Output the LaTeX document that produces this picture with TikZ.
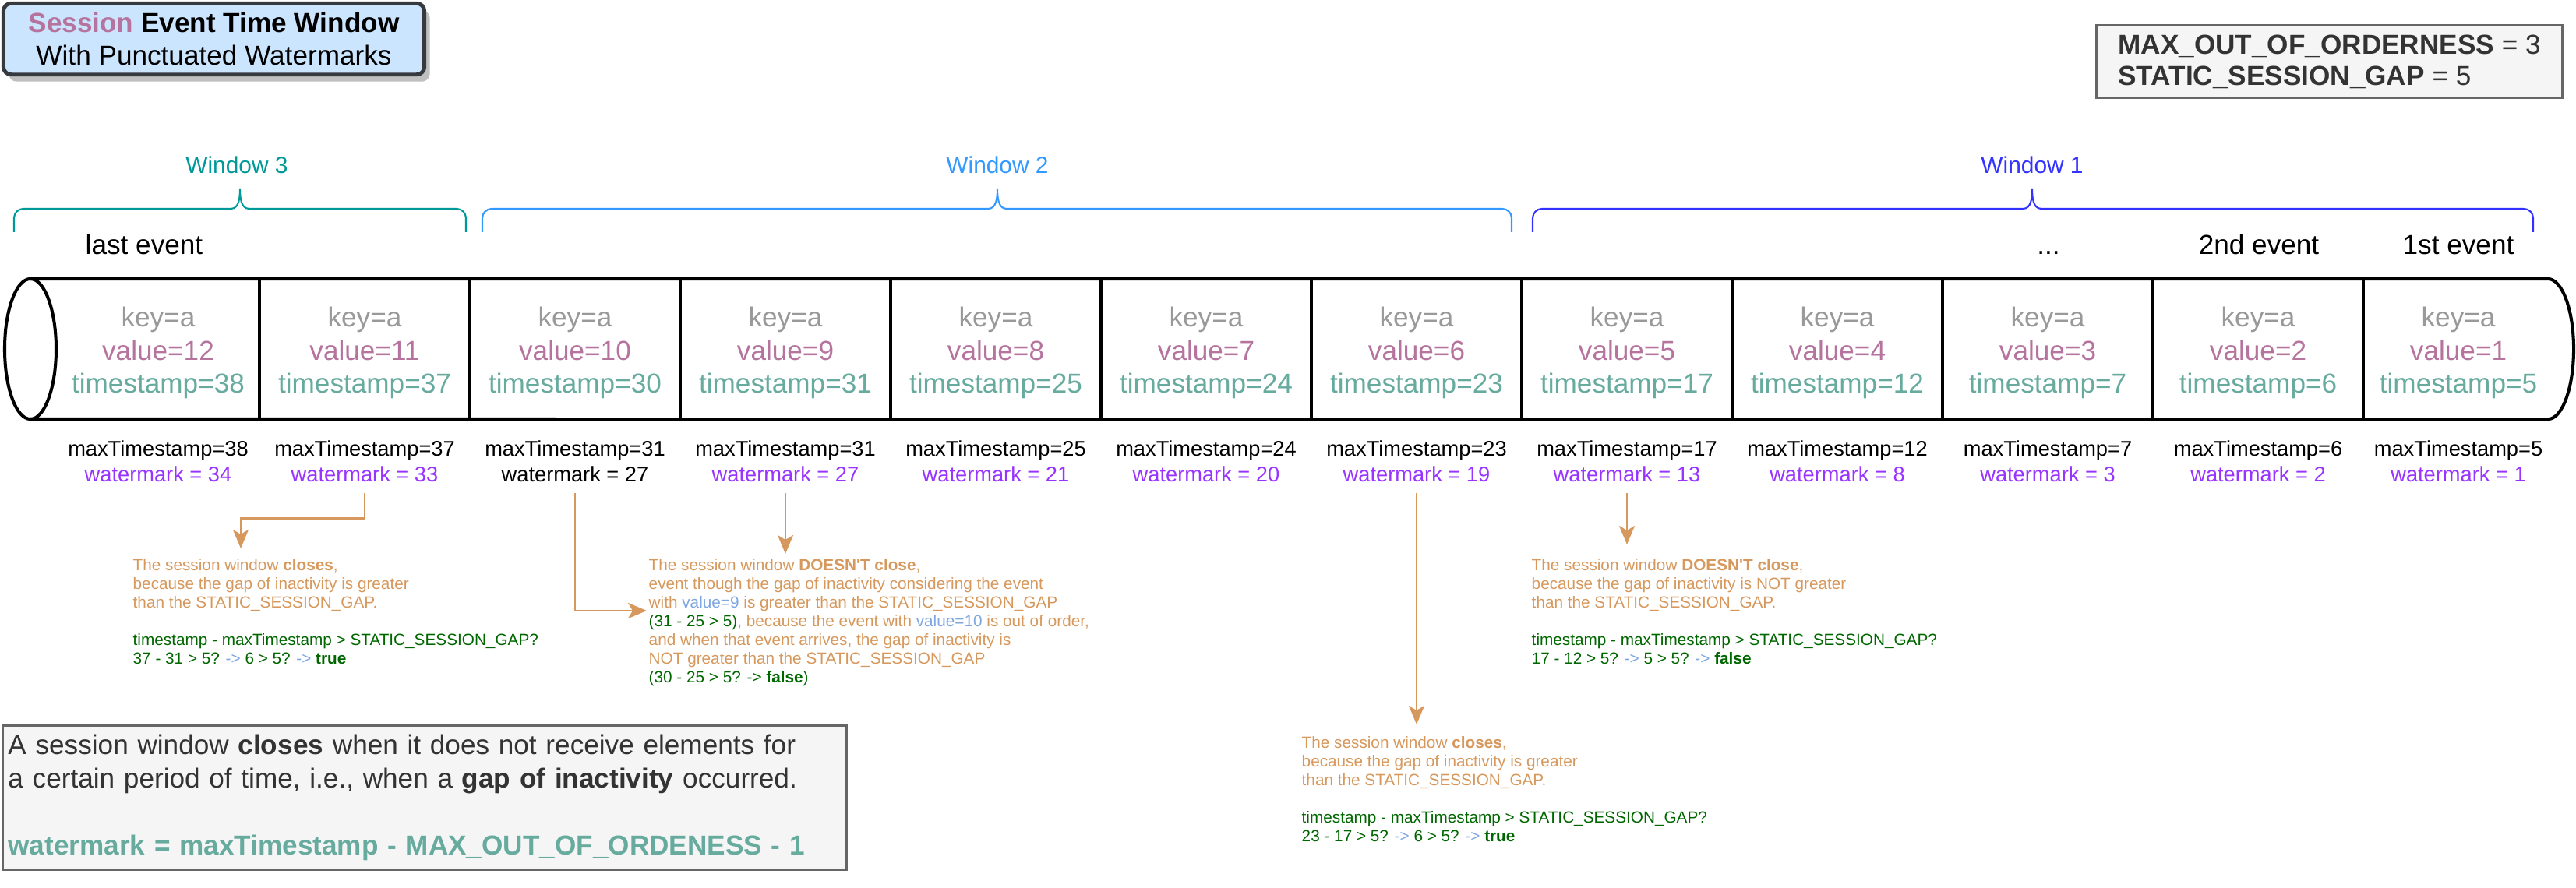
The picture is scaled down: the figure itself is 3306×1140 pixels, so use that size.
\documentclass[tikz,border=0pt]{standalone}
\usepackage{fontspec}
\setmainfont{Liberation Sans}
\newfontfamily\rawfont{Liberation Sans}
\usepackage{xcolor}
\usepackage{tikz}
\usetikzlibrary{arrows.meta,shadows}
\definecolor{keygray}{HTML}{999999}
\definecolor{valpink}{HTML}{B5739D}
\definecolor{tsgreen}{HTML}{67AB9F}
\definecolor{wmpurple}{HTML}{9933FF}
\definecolor{notec}{HTML}{D6985C}
\definecolor{codegreen}{HTML}{006600}
\definecolor{linkblue}{HTML}{7EA6E0}
\definecolor{winthree}{HTML}{009999}
\definecolor{wintwo}{HTML}{3399FF}
\definecolor{winone}{HTML}{3333FF}
\definecolor{titlefill}{HTML}{CCE5FF}
\definecolor{titledraw}{HTML}{36393D}
\definecolor{boxfill}{HTML}{F5F5F5}
\definecolor{boxdraw}{HTML}{666666}
\definecolor{boxtext}{HTML}{333333}
\tikzstyle{Cell}=[align=center, inner sep=0, font=\fontsize{10}{12}\selectfont]
\tikzstyle{Mark}=[align=center, inner sep=0.14cm, font=\fontsize{7.75}{9.4}\selectfont]
\tikzstyle{Event}=[anchor=base, inner sep=0, font=\fontsize{10}{12}\selectfont]
\tikzstyle{Win}=[inner sep=0, font=\fontsize{8.5}{10}\selectfont]
\tikzstyle{Brace}=[line width=0.6pt]
\tikzstyle{Pipe}=[line width=1.15pt]
\tikzstyle{Note}=[anchor=north west, align=left, inner sep=0, text=notec, font=\fontsize{5.9}{6.83}\selectfont]
\tikzstyle{Flow}=[draw=notec, line width=0.8pt, -{Stealth[length=0.24cm, width=0.2cm, inset=0.06cm]}]
\tikzstyle{InfoBox}=[draw=boxdraw, fill=boxfill, text=boxtext, line width=0.9pt, align=left]
\tikzstyle{TitleBox}=[draw=titledraw, fill=titlefill, line width=1.4pt, rounded corners=0.1cm, align=center, minimum width=5.4cm, minimum height=0.89cm, font=\fontsize{10}{12}\selectfont, drop shadow={shadow xshift=0.07cm, shadow yshift=-0.09cm, fill=black!25, opacity=1}]

\begin{document}
\begin{tikzpicture}[x=0.01cm, y=-0.01cm]
    \useasboundingbox (0,0) rectangle (3306,1140);

    \path
    (274.5,50) node[TitleBox] (title) {\textbf{\textcolor{valpink}{Session} Event Time Window}\\With Punctuated Watermarks}
    (2989.5,79) node[InfoBox, minimum width=5.98cm, minimum height=0.9cm, font=\fontsize{10}{11.4}\selectfont] (consts) {\textbf{MAX\_OUT\_OF\_ORDERNESS} = 3\\\textbf{STATIC\_SESSION\_GAP} = 5};

    % windows
    \path
    (304,212) node[Win, text=winthree] (win3) {Window 3}
    (1280,212) node[Win, text=wintwo] (win2) {Window 2}
    (2608,212) node[Win, text=winone] (win1) {Window 1};
    \draw[Brace, winthree] (18,298) -- (18,280) to[out=90,in=180] (30,268) -- (296,268) to[out=0,in=-90] (308,242) to[out=-90,in=180] (320,268) -- (586,268) to[out=0,in=90] (598,280) -- (598,298);
    \draw[Brace, wintwo] (619,298) -- (619,280) to[out=90,in=180] (631,268) -- (1268,268) to[out=0,in=-90] (1280,242) to[out=-90,in=180] (1292,268) -- (1928,268) to[out=0,in=90] (1940,280) -- (1940,298);
    \draw[Brace, winone] (1967,298) -- (1967,280) to[out=90,in=180] (1979,268) -- (2596,268) to[out=0,in=-90] (2608,242) to[out=-90,in=180] (2620,268) -- (3239,268) to[out=0,in=90] (3251,280) -- (3251,298);

    \path
    (185,327) node[Event] (last) {last event}
    (2629,327) node[Event] (dots) {...}
    (2899,327) node[Event] (second) {2nd event}
    (3155,327) node[Event] (first) {1st event};

    % stream
    \draw[Pipe] (39,358) -- (3270,358) arc[start angle=90, end angle=-90, x radius=0.33cm, y radius=0.9cm] -- (39,538);
    \draw[Pipe] (39,448) ellipse[x radius=0.33cm, y radius=0.9cm];
    \draw[Pipe] (333,358) -- (333,538) (603,358) -- (603,538) (873,358) -- (873,538) (1143,358) -- (1143,538)
        (1413,358) -- (1413,538) (1683,358) -- (1683,538) (1953,358) -- (1953,538) (2223,358) -- (2223,538)
        (2493,358) -- (2493,538) (2763,358) -- (2763,538) (3033,358) -- (3033,538);

    \path
    (203,453) node[Cell] (cell1) {\textcolor{keygray}{key=a}\\\textcolor{valpink}{value=12}\\\textcolor{tsgreen}{timestamp=38}}
    (468,453) node[Cell] (cell2) {\textcolor{keygray}{key=a}\\\textcolor{valpink}{value=11}\\\textcolor{tsgreen}{timestamp=37}}
    (738,453) node[Cell] (cell3) {\textcolor{keygray}{key=a}\\\textcolor{valpink}{value=10}\\\textcolor{tsgreen}{timestamp=30}}
    (1008,453) node[Cell] (cell4) {\textcolor{keygray}{key=a}\\\textcolor{valpink}{value=9}\\\textcolor{tsgreen}{timestamp=31}}
    (1278,453) node[Cell] (cell5) {\textcolor{keygray}{key=a}\\\textcolor{valpink}{value=8}\\\textcolor{tsgreen}{timestamp=25}}
    (1548,453) node[Cell] (cell6) {\textcolor{keygray}{key=a}\\\textcolor{valpink}{value=7}\\\textcolor{tsgreen}{timestamp=24}}
    (1818,453) node[Cell] (cell7) {\textcolor{keygray}{key=a}\\\textcolor{valpink}{value=6}\\\textcolor{tsgreen}{timestamp=23}}
    (2088,453) node[Cell] (cell8) {\textcolor{keygray}{key=a}\\\textcolor{valpink}{value=5}\\\textcolor{tsgreen}{timestamp=17}}
    (2358,453) node[Cell] (cell9) {\textcolor{keygray}{key=a}\\\textcolor{valpink}{value=4}\\\textcolor{tsgreen}{timestamp=12}}
    (2628,453) node[Cell] (cell10) {\textcolor{keygray}{key=a}\\\textcolor{valpink}{value=3}\\\textcolor{tsgreen}{timestamp=7}}
    (2898,453) node[Cell] (cell11) {\textcolor{keygray}{key=a}\\\textcolor{valpink}{value=2}\\\textcolor{tsgreen}{timestamp=6}}
    (3155,453) node[Cell] (cell12) {\textcolor{keygray}{key=a}\\\textcolor{valpink}{value=1}\\\textcolor{tsgreen}{timestamp=5}};

    % watermarks
    \path
    (203,592) node[Mark] (wm1) {maxTimestamp=38\\\textcolor{wmpurple}{watermark = 34}}
    (468,592) node[Mark] (wm2) {maxTimestamp=37\\\textcolor{wmpurple}{watermark = 33}}
    (738,592) node[Mark] (wm3) {maxTimestamp=31\\watermark = 27}
    (1008,592) node[Mark] (wm4) {maxTimestamp=31\\\textcolor{wmpurple}{watermark = 27}}
    (1278,592) node[Mark] (wm5) {maxTimestamp=25\\\textcolor{wmpurple}{watermark = 21}}
    (1548,592) node[Mark] (wm6) {maxTimestamp=24\\\textcolor{wmpurple}{watermark = 20}}
    (1818,592) node[Mark] (wm7) {maxTimestamp=23\\\textcolor{wmpurple}{watermark = 19}}
    (2088,592) node[Mark] (wm8) {maxTimestamp=17\\\textcolor{wmpurple}{watermark = 13}}
    (2358,592) node[Mark] (wm9) {maxTimestamp=12\\\textcolor{wmpurple}{watermark = 8}}
    (2628,592) node[Mark] (wm10) {maxTimestamp=7\\\textcolor{wmpurple}{watermark = 3}}
    (2898,592) node[Mark] (wm11) {maxTimestamp=6\\\textcolor{wmpurple}{watermark = 2}}
    (3155,592) node[Mark] (wm12) {maxTimestamp=5\\\textcolor{wmpurple}{watermark = 1}};

    % notes
    \path
    (170,717) node[Note] (note1) {The session window \textbf{closes},\\because the gap of inactivity is greater\\than the STATIC\_SESSION\_GAP.\\[6.83pt]\textcolor{codegreen}{timestamp - maxTimestamp > STATIC\_SESSION\_GAP?}\\\textcolor{codegreen}{37 - 31 > 5? \textcolor{linkblue}{->} 6 > 5? \textcolor{linkblue}{->} \textbf{true}}}
    (832,717) node[Note] (note2) {The session window \textbf{DOESN{\rawfont'}T close},\\event though the gap of inactivity considering the event\\with \textcolor{linkblue}{value=9} is greater than the STATIC\_SESSION\_GAP\\\textcolor{codegreen}{(31 - 25 > 5)}, because the event with \textcolor{linkblue}{value=10} is out of order,\\and when that event arrives, the gap of inactivity is\\NOT greater than the STATIC\_SESSION\_GAP\\\textcolor{codegreen}{(30 - 25 > 5? -> \textbf{false})}}
    (1965,717) node[Note] (note3) {The session window \textbf{DOESN{\rawfont'}T close},\\because the gap of inactivity is NOT greater\\than the STATIC\_SESSION\_GAP.\\[6.83pt]\textcolor{codegreen}{timestamp - maxTimestamp > STATIC\_SESSION\_GAP?}\\\textcolor{codegreen}{17 - 12 > 5? \textcolor{linkblue}{->} 5 > 5? \textcolor{linkblue}{->} \textbf{false}}}
    (1670,945) node[Note] (note4) {The session window \textbf{closes},\\because the gap of inactivity is greater\\than the STATIC\_SESSION\_GAP.\\[6.83pt]\textcolor{codegreen}{timestamp - maxTimestamp > STATIC\_SESSION\_GAP?}\\\textcolor{codegreen}{23 - 17 > 5? \textcolor{linkblue}{->} 6 > 5? \textcolor{linkblue}{->} \textbf{true}}};

    \coordinate (tip1) at (309,704);
    \coordinate (tip2) at (830,784);
    \coordinate (tip3) at (1008,711);
    \coordinate (tip4) at (1818,930);
    \coordinate (tip5) at (2088,699);

    \draw[Flow] (wm2.south) -- ++(0,32) -| (tip1);
    \draw[Flow] (wm3.south) |- (tip2);
    \draw[Flow] (wm4.south) -- (tip3);
    \draw[Flow] (wm7.south) -- (tip4);
    \draw[Flow] (wm8.south) -- (tip5);

    \path (544.75,1024) node[InfoBox, text width=10.68cm, inner xsep=0.07cm, minimum height=1.82cm, font=\fontsize{10}{12.2}\selectfont] (rule) {A session window \textbf{closes} when it does not receive elements for\\a certain period of time, i.e., when a \textbf{gap of inactivity} occurred.\\[12.2pt]\textbf{\textcolor{tsgreen}{watermark = maxTimestamp - MAX\_OUT\_OF\_ORDENESS - 1}}};
\end{tikzpicture}
\end{document}
